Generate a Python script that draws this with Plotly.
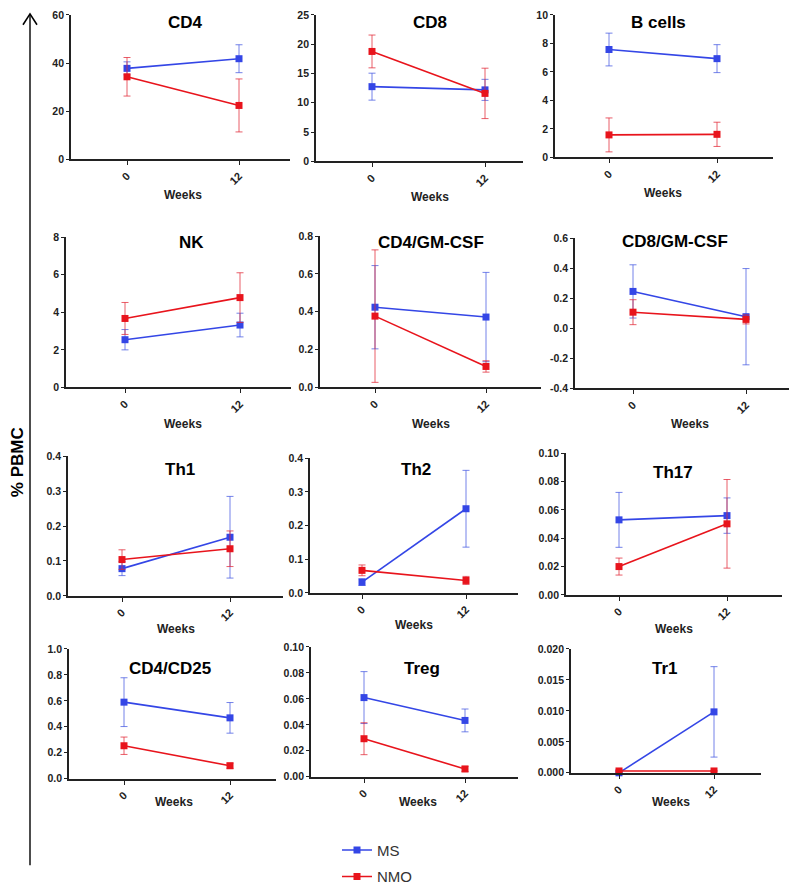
import plotly.graph_objects as go

W, H = 797, 885

# ---------------- data ----------------
weeks = [0, 12]
week_labels = ["0", "12"]
panel_titles = ["CD4", "CD8", "B cells", "NK", "CD4/GM-CSF", "CD8/GM-CSF",
                "Th1", "Th2", "Th17", "CD4/CD25", "Treg", "Tr1"]

ms_mean = [[37.8, 41.8], [12.75, 12.2], [7.57, 6.93], [2.54, 3.32],
           [0.424, 0.372], [0.245, 0.077], [0.078, 0.168], [0.032, 0.250],
           [0.053, 0.056], [0.59, 0.469], [0.061, 0.0434], [0.0, 0.00984]]
ms_err = [[2.7, 5.8], [2.3, 1.8], [1.15, 0.98], [0.54, 0.63],
          [0.22, 0.236], [0.177, 0.32], [0.02, 0.117], [0.01, 0.114],
          [0.0194, 0.0125], [0.188, 0.118], [0.02, 0.0088], [0.0, 0.0073]]
nmo_mean = [[34.3, 22.4], [18.76, 11.6], [1.58, 1.62], [3.67, 4.78],
            [0.377, 0.111], [0.107, 0.059], [0.104, 0.135], [0.067, 0.037],
            [0.020, 0.0502], [0.254, 0.10], [0.0293, 0.006], [0.0003, 0.0003]]
nmo_err = [[8.0, 11.0], [2.8, 4.3], [1.19, 0.85], [0.85, 1.32],
           [0.35, 0.03], [0.083, 0.03], [0.028, 0.051], [0.016, 0.012],
           [0.006, 0.0313], [0.067, 0.02], [0.0123, 0.002], [0.0, 0.0]]

y_tickvals = [[0, 20, 40, 60], [0, 5, 10, 15, 20, 25], [0, 2, 4, 6, 8, 10],
              [0, 2, 4, 6, 8], [0.0, 0.2, 0.4, 0.6, 0.8],
              [-0.4, -0.2, 0.0, 0.2, 0.4, 0.6], [0.0, 0.1, 0.2, 0.3, 0.4],
              [0.0, 0.1, 0.2, 0.3, 0.4], [0.0, 0.02, 0.04, 0.06, 0.08, 0.10],
              [0.0, 0.2, 0.4, 0.6, 0.8, 1.0],
              [0.0, 0.02, 0.04, 0.06, 0.08, 0.10],
              [0.0, 0.005, 0.010, 0.015, 0.020]]
y_ticktext = [["0", "20", "40", "60"], ["0", "5", "10", "15", "20", "25"],
              ["0", "2", "4", "6", "8", "10"], ["0", "2", "4", "6", "8"],
              ["0.0", "0.2", "0.4", "0.6", "0.8"],
              ["-0.4", "-0.2", "0.0", "0.2", "0.4", "0.6"],
              ["0.0", "0.1", "0.2", "0.3", "0.4"],
              ["0.0", "0.1", "0.2", "0.3", "0.4"],
              ["0.00", "0.02", "0.04", "0.06", "0.08", "0.10"],
              ["0.0", "0.2", "0.4", "0.6", "0.8", "1.0"],
              ["0.00", "0.02", "0.04", "0.06", "0.08", "0.10"],
              ["0.000", "0.005", "0.010", "0.015", "0.020"]]
series_names = ["MS", "NMO"]

# ---------------- layout geometry (pixels) ----------------
# (left, right, px of week 0, px of week 12, top, bottom)
boxes = [(63, 282, 119, 231, 7, 154), (308, 515, 364, 477, 7, 156),
         (547, 765, 601, 709, 7, 152),
         (58, 283, 117, 232, 233, 386), (312, 533, 367, 478, 232, 386),
         (567, 797, 625, 738, 234, 387),
         (60, 275, 114, 222, 456, 598), (302, 510, 354, 458, 458, 595),
         (558, 774, 611, 719, 453, 597),
         (61, 268, 116, 222, 652, 784), (303, 510, 356, 457, 650, 782),
         (563, 753, 611, 706, 652, 778)]
title_pos = [(177, 15), (422, 15), (650, 15), (183, 239), (423, 239),
             (667, 238), (172, 469), (408, 469), (665, 472), (162, 672),
             (414, 672), (657, 672)]
weeks_pos = [(175, 190), (422, 192), (655, 188), (175, 423), (423, 423),
             (682, 423), (168, 632), (406, 628), (666, 632), (166, 808),
             (410, 808), (663, 808)]

BLUE = "#3446e6"
RED = "#e8141c"
BLUE_E = "rgba(70,90,225,0.75)"
RED_E = "rgba(225,40,55,0.75)"
AX = "#222222"
FONT = "Liberation Sans, Arial, sans-serif"


def fx(p):
    return p / W


def fy(p):
    return 1 - p / H


fig = go.Figure()
layout = dict(width=W, height=H, margin=dict(l=0, r=0, t=0, b=0),
              plot_bgcolor="white", paper_bgcolor="white",
              font=dict(family=FONT, color="#222"))
annotations = []

for i, title in enumerate(panel_titles):
    n = i + 1
    xa = "x" if n == 1 else f"x{n}"
    ya = "y" if n == 1 else f"y{n}"
    L, R, p0, p12, top, bot = boxes[i]
    s = (p12 - p0) / (weeks[1] - weeks[0])
    xr = [(L - p0) / s, (R - p0) / s]
    yv = y_tickvals[i]
    for name, mean, err, col, ecol in (
            (series_names[0], ms_mean[i], ms_err[i], BLUE, BLUE_E),
            (series_names[1], nmo_mean[i], nmo_err[i], RED, RED_E)):
        fig.add_trace(go.Scatter(
            x=weeks, y=mean, mode="lines+markers", name=name,
            legendgroup=name, showlegend=(i == 0), cliponaxis=False,
            line=dict(color=col, width=1.6),
            marker=dict(symbol="square", size=7, color=col),
            error_y=dict(type="data", array=err, color=ecol,
                         thickness=1, width=3.5),
            xaxis=xa, yaxis=ya))
    layout["xaxis" if n == 1 else f"xaxis{n}"] = dict(
        domain=[fx(L), fx(R)], range=xr, anchor=ya, showgrid=False,
        zeroline=False, showline=True, linecolor=AX, linewidth=1.8,
        ticks="outside", ticklen=4, tickwidth=1.4, tickcolor=AX,
        tickvals=weeks, ticktext=week_labels, tickangle=-45,
        tickfont=dict(size=11, weight=700, color="#222", family=FONT),
        automargin=False, fixedrange=True)
    layout["yaxis" if n == 1 else f"yaxis{n}"] = dict(
        domain=[fy(bot), fy(top)], range=[yv[0], yv[-1]], anchor=xa,
        showgrid=False, zeroline=False, showline=True, linecolor=AX,
        linewidth=1.8, ticks="outside", ticklen=3, tickwidth=1.4,
        tickcolor=AX, tickvals=yv, ticktext=y_ticktext[i],
        tickfont=dict(size=10.5, weight=700, color="#222", family=FONT),
        automargin=False, fixedrange=True)
    tx, ty = title_pos[i]
    annotations.append(dict(x=fx(tx), y=fy(ty), xref="paper", yref="paper",
                            xanchor="center", yanchor="middle",
                            text=title, showarrow=False,
                            font=dict(size=17, weight=700, color="black",
                                      family=FONT)))
    wx, wy = weeks_pos[i]
    annotations.append(dict(x=fx(wx), y=fy(wy), xref="paper", yref="paper",
                            xanchor="center", yanchor="middle",
                            text="Weeks", showarrow=False,
                            font=dict(size=12, weight=700, color="#222",
                                      family=FONT)))

annotations.append(dict(x=fx(9), y=fy(462), xref="paper", yref="paper",
                        xanchor="center", yanchor="middle",
                        text="% PBMC", textangle=-90, showarrow=False,
                        font=dict(size=17, weight=700, color="black",
                                  family=FONT)))

shapes = [
    dict(type="line", xref="paper", yref="paper", x0=fx(22), x1=fx(22),
         y0=fy(872), y1=fy(6), line=dict(color="black", width=1.4)),
    dict(type="path", xref="paper", yref="paper",
         path=f"M {fx(15)},{fy(17)} L {fx(22)},{fy(6)} L {fx(29)},{fy(17)}",
         line=dict(color="black", width=1.6)),
]

layout["annotations"] = annotations
layout["shapes"] = shapes
layout["showlegend"] = True
layout["legend"] = dict(x=fx(329), y=fy(840), xanchor="left", yanchor="top",
                        font=dict(size=15, color="#333", family=FONT),
                        itemwidth=30, tracegroupgap=4,
                        bgcolor="rgba(0,0,0,0)")
fig.update_layout(**layout)

fig.write_html("out.html")
